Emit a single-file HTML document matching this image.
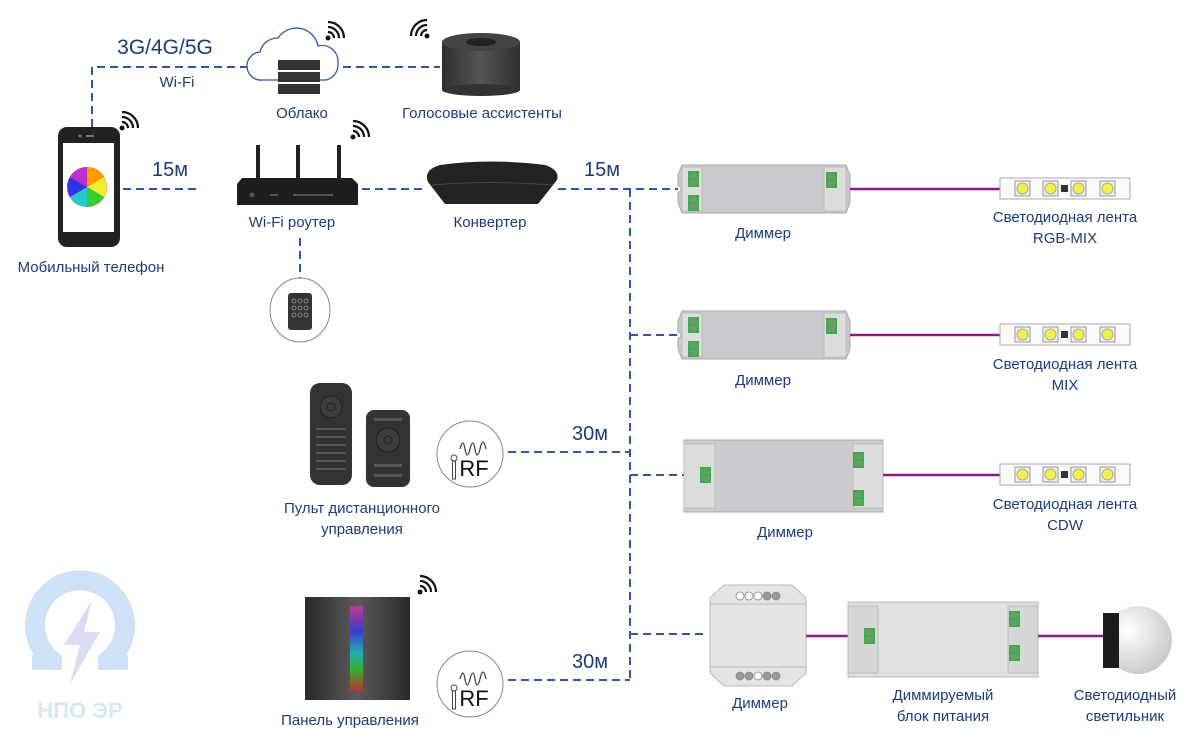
<!DOCTYPE html>
<html><head><meta charset="utf-8"><style>
html,body{margin:0;padding:0;background:#fff}
svg{display:block}
text{font-family:"Liberation Sans Narrow","Liberation Sans",sans-serif;fill:#1d3b78;font-size:15px;text-anchor:middle}
.d{stroke:#2f55b0;stroke-width:2;stroke-dasharray:8 5;fill:none}
.p{stroke:#8a1a8a;stroke-width:2.5}
</style></head><body>
<svg width="1200" height="750" viewBox="0 0 1200 750" xmlns="http://www.w3.org/2000/svg">
<defs>
<radialGradient id="sph" cx="0.35" cy="0.35" r="0.7"><stop offset="0" stop-color="#fff"/><stop offset="1" stop-color="#c8c8c8"/></radialGradient>
<linearGradient id="pan" x1="0" x2="1"><stop offset="0" stop-color="#2a2a2a"/><stop offset="0.5" stop-color="#5a5a5a"/><stop offset="1" stop-color="#2a2a2a"/></linearGradient>
<linearGradient id="rb" x1="0" x2="0" y1="0" y2="1"><stop offset="0" stop-color="#c0398f"/><stop offset="0.3" stop-color="#3b3bd0"/><stop offset="0.55" stop-color="#20b0b0"/><stop offset="0.75" stop-color="#30b030"/><stop offset="1" stop-color="#c03030"/></linearGradient>
<linearGradient id="cyl" x1="0" x2="1"><stop offset="0" stop-color="#2f2f2f"/><stop offset="0.5" stop-color="#555"/><stop offset="1" stop-color="#2f2f2f"/></linearGradient>
<g id="wifi"><circle cx="0" cy="0" r="2.5" fill="#111"/><path d="M0,-6 A6,6 0 0 1 6,0 M0,-11 A11,11 0 0 1 11,0 M0,-16 A16,16 0 0 1 16,0" stroke="#111" stroke-width="2.2" fill="none"/></g>
<g id="term"><rect x="0" y="0" width="11" height="16" fill="#3cae49"/><rect x="2" y="2" width="7" height="5" fill="#6b9a6b"/><rect x="2" y="9" width="7" height="5" fill="#6b9a6b"/></g>
<g id="strip"><rect x="0" y="0" width="130" height="21" fill="#fafafa" stroke="#aaa"/>
<rect x="15" y="3" width="15" height="15" fill="#eee" stroke="#999"/><circle cx="22.5" cy="10.5" r="5.5" fill="#f4f04a" stroke="#aaa"/>
<rect x="43" y="3" width="15" height="15" fill="#eee" stroke="#999"/><circle cx="50.5" cy="10.5" r="5.5" fill="#f4f04a" stroke="#aaa"/>
<rect x="61" y="7" width="7" height="7" fill="#333"/>
<rect x="71" y="3" width="15" height="15" fill="#eee" stroke="#999"/><circle cx="78.5" cy="10.5" r="5.5" fill="#f4f04a" stroke="#aaa"/>
<rect x="100" y="3" width="15" height="15" fill="#eee" stroke="#999"/><circle cx="107.5" cy="10.5" r="5.5" fill="#f4f04a" stroke="#aaa"/></g>
<g id="dim"><path d="M4,0 H168 L172,10 V38 L168,48 H4 L0,38 V27 A3,3 0 0 0 0,21 V10 Z" fill="#c9c9cd" stroke="#aaa"/>
<rect x="4" y="2" width="20" height="44" fill="#dcdcdc" stroke="#bbb"/><rect x="146" y="2" width="22" height="44" fill="#dcdcdc" stroke="#bbb"/>
<use href="#term" x="10" y="6"/><use href="#term" x="10" y="30"/><use href="#term" x="148" y="7"/></g>
<g id="rf"><circle r="33" fill="#fff" stroke="#888"/><path d="M-10,-5 q3,-12 5,0 q2,12 5,0 q3,-12 5,0 q2,12 5,0 q3,-14 6,0" stroke="#444" fill="none" stroke-width="1.3"/>
<circle cx="-16" cy="4" r="3" fill="none" stroke="#444"/><rect x="-17.5" y="7" width="3" height="18" fill="none" stroke="#444"/>
<text x="4" y="22" style="font-size:22px;fill:#111;font-family:'Liberation Sans',sans-serif">RF</text></g>
</defs>

<path class="d" d="M92,127 V67 H248"/>
<path class="d" d="M343,67 H440"/>
<path class="d" d="M123,189 H200"/>
<path class="d" d="M362,189 H425"/>
<path class="d" d="M558,189 H678"/>
<path class="d" d="M630,189 V682"/>
<path class="d" d="M630,335 H678"/>
<path class="d" d="M630,475 H684"/>
<path class="d" d="M630,634 H708"/>
<path class="d" d="M508,452 H630"/>
<path class="d" d="M508,680 H630"/>
<path class="d" d="M300,238 V282"/>

<text x="165" y="54" style="font-size:21px">3G/4G/5G</text>
<text x="177" y="87">Wi-Fi</text>
<text x="170" y="176" style="font-size:20px">15м</text>
<text x="602" y="176" style="font-size:20px">15м</text>
<text x="590" y="440" style="font-size:20px">30м</text>
<text x="590" y="668" style="font-size:20px">30м</text>

<rect x="58" y="127" width="62" height="120" rx="9" fill="#222"/>
<rect x="63" y="143" width="51" height="89" fill="#fff"/>
<circle cx="80" cy="136" r="1.5" fill="#777"/><rect x="86" y="135" width="8" height="2" fill="#777"/>
<circle cx="87" cy="187" r="20" fill="#e23"/>
<path d="M87,187 L87,167 A20,20 0 0 1 104,177 Z" fill="#f90"/><path d="M87,187 L104,177 A20,20 0 0 1 104,197 Z" fill="#ee3"/>
<path d="M87,187 L104,197 A20,20 0 0 1 87,207 Z" fill="#3c3"/><path d="M87,187 L87,207 A20,20 0 0 1 70,197 Z" fill="#2cc"/>
<path d="M87,187 L70,197 A20,20 0 0 1 70,177 Z" fill="#33e"/><path d="M87,187 L70,177 A20,20 0 0 1 87,167 Z" fill="#b3c"/>
<use href="#wifi" x="122" y="128"/>
<text x="91" y="272">Мобильный телефон</text>

<path d="M262,80 a14,14 0 0 1 -2,-28 a18,18 0 0 1 18,-14 a22,22 0 0 1 40,8 a16,16 0 0 1 20,17 a16,16 0 0 1 -12,17 Z" fill="#fff" stroke="#2f55b0" stroke-width="1.3"/>
<rect x="278" y="60" width="42" height="10" fill="#333"/><rect x="278" y="72" width="42" height="10" fill="#333"/><rect x="278" y="84" width="42" height="10" fill="#333"/>
<use href="#wifi" x="328" y="38"/>
<text x="302" y="118">Облако</text>

<rect x="442" y="42" width="78" height="48" fill="url(#cyl)"/>
<ellipse cx="481" cy="90" rx="39" ry="6" fill="#333"/>
<ellipse cx="481" cy="42" rx="39" ry="9" fill="#444"/>
<ellipse cx="481" cy="42" rx="15" ry="4" fill="#222"/>
<use href="#wifi" x="427" y="36" transform="scale(-1,1) translate(-854,0)"/>
<text x="482" y="118">Голосовые ассистенты</text>

<rect x="256" y="145" width="4" height="35" fill="#222"/><rect x="296" y="145" width="4" height="35" fill="#222"/><rect x="337" y="145" width="4" height="35" fill="#222"/>
<path d="M242,178 H352 L358,184 V205 H237 V184 Z" fill="#1e1e1e"/>
<circle cx="252" cy="195" r="2.5" fill="#555"/><rect x="270" y="194" width="8" height="2" fill="#555"/><rect x="293" y="194" width="40" height="2" fill="#555"/>
<use href="#wifi" x="353" y="137"/>
<text x="292" y="227">Wi-Fi роутер</text>

<ellipse cx="300" cy="310" rx="30" ry="32" fill="#fff" stroke="#888"/>
<rect x="288" y="293" width="24" height="37" rx="3" fill="#333"/>
<g fill="none" stroke="#999" stroke-width="0.8"><circle cx="294" cy="301" r="2"/><circle cx="300" cy="301" r="2"/><circle cx="306" cy="301" r="2"/><circle cx="294" cy="308" r="2"/><circle cx="300" cy="308" r="2"/><circle cx="306" cy="308" r="2"/><circle cx="294" cy="315" r="2"/><circle cx="300" cy="315" r="2"/><circle cx="306" cy="315" r="2"/></g>

<path d="M440,165 Q490,158 545,165 Q560,170 557,180 L538,204 H445 L428,182 Q423,170 440,165 Z" fill="#232323"/>
<path d="M432,185 Q490,180 553,185" stroke="#444" fill="none"/>
<text x="490" y="227">Конвертер</text>

<use href="#dim" x="678" y="165"/>
<line class="p" x1="850" y1="189" x2="1000" y2="189"/>
<use href="#strip" x="1000" y="178"/>
<text x="763" y="238">Диммер</text>
<text x="1065" y="222">Светодиодная лента</text><text x="1065" y="243">RGB-MIX</text>

<use href="#dim" x="678" y="311"/>
<line class="p" x1="850" y1="335" x2="1000" y2="335"/>
<use href="#strip" x="1000" y="324"/>
<text x="763" y="385">Диммер</text>
<text x="1065" y="369">Светодиодная лента</text><text x="1065" y="390">MIX</text>

<rect x="684" y="440" width="199" height="72" fill="#cbcbcf" stroke="#aaa"/>
<rect x="684" y="444" width="31" height="64" fill="#dcdcdc" stroke="#bbb"/><rect x="853" y="444" width="30" height="64" fill="#dcdcdc" stroke="#bbb"/>
<use href="#term" x="700" y="467"/><use href="#term" x="853" y="452"/><use href="#term" x="853" y="490"/>
<line class="p" x1="883" y1="475" x2="1000" y2="475"/>
<use href="#strip" x="1000" y="464"/>
<text x="785" y="537">Диммер</text>
<text x="1065" y="509">Светодиодная лента</text><text x="1065" y="530">CDW</text>

<path d="M724,585 H792 L806,598 V673 L792,686 H724 L710,673 V598 Z" fill="#e4e4e4" stroke="#bbb"/>
<line x1="710" y1="604" x2="806" y2="604" stroke="#bbb"/><line x1="710" y1="667" x2="806" y2="667" stroke="#bbb"/>
<g stroke="#888" stroke-width="0.8"><circle cx="740" cy="596" r="4" fill="#fff"/><circle cx="749" cy="596" r="4" fill="#fff"/><circle cx="758" cy="596" r="4" fill="#fff"/><circle cx="767" cy="596" r="4" fill="#999"/><circle cx="776" cy="596" r="4" fill="#999"/>
<circle cx="740" cy="676" r="4" fill="#999"/><circle cx="749" cy="676" r="4" fill="#999"/><circle cx="758" cy="676" r="4" fill="#fff"/><circle cx="767" cy="676" r="4" fill="#999"/><circle cx="776" cy="676" r="4" fill="#999"/></g>
<line class="p" x1="806" y1="636" x2="850" y2="636"/>
<text x="760" y="708">Диммер</text>

<rect x="848" y="602" width="190" height="75" fill="#e0e0e0" stroke="#bbb"/>
<rect x="848" y="606" width="30" height="67" fill="#d6d6d6" stroke="#bbb"/><rect x="1008" y="606" width="30" height="67" fill="#d6d6d6" stroke="#bbb"/>
<use href="#term" x="864" y="628"/><use href="#term" x="1009" y="611"/><use href="#term" x="1009" y="645"/>
<line class="p" x1="1038" y1="636" x2="1105" y2="636"/>
<text x="943" y="700">Диммируемый</text><text x="943" y="721">блок питания</text>

<circle cx="1138" cy="640" r="34" fill="url(#sph)"/>
<rect x="1103" y="613" width="16" height="55" fill="#1c1c1c"/>
<text x="1125" y="700">Светодиодный</text><text x="1125" y="721">светильник</text>

<rect x="310" y="383" width="42" height="102" rx="10" fill="#333"/>
<circle cx="331" cy="407" r="11" fill="#3d3d3d" stroke="#222"/><circle cx="331" cy="407" r="4" fill="none" stroke="#222"/>
<g fill="#555"><rect x="316" y="428" width="30" height="2"/><rect x="316" y="436" width="30" height="2"/><rect x="316" y="444" width="30" height="2"/><rect x="316" y="452" width="30" height="2"/><rect x="316" y="460" width="30" height="2"/><rect x="316" y="468" width="30" height="2"/></g>
<rect x="366" y="410" width="44" height="77" rx="8" fill="#333"/>
<circle cx="388" cy="440" r="12" fill="#3d3d3d" stroke="#222"/><circle cx="388" cy="440" r="4" fill="none" stroke="#222"/>
<g fill="#555"><rect x="374" y="418" width="28" height="3"/><rect x="374" y="464" width="28" height="3"/><rect x="374" y="474" width="28" height="3"/></g>
<text x="362" y="513">Пульт дистанционного</text><text x="362" y="534">управления</text>
<use href="#rf" x="470" y="454"/>

<rect x="305" y="597" width="105" height="103" fill="url(#pan)"/>
<rect x="350" y="606" width="13" height="85" fill="url(#rb)"/>
<use href="#wifi" x="420" y="592"/>
<text x="350" y="725">Панель управления</text>
<use href="#rf" x="470" y="684"/>

<g>
<path d="M54,662 A45,45 0 1 1 106,662" stroke="#cfe1f6" stroke-width="20" fill="none"/>
<rect x="32" y="655" width="30" height="15" fill="#cfe1f6"/>
<rect x="98" y="655" width="30" height="15" fill="#cfe1f6"/>
<path d="M92,600 L64,645 H80 L70,684 L100,632 H84 Z" fill="#dadcf4"/>
<text x="80" y="718" style="font-family:'Liberation Sans',sans-serif;font-weight:bold;font-size:22px;fill:#d4e8f8">НПО ЭР</text>
</g>
</svg>
</body></html>
